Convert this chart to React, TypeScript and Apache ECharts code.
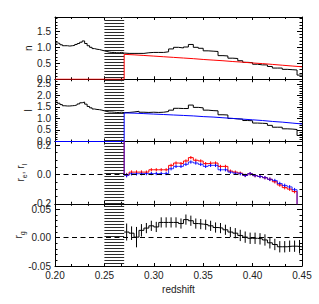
import React, { useEffect, useRef } from "react";
import * as echarts from "echarts";

// ---------- data ----------
const Z_RANGE = [0.2, 0.45];
const HATCH_Z = [0.25, 0.27];

// fine-resolution bins (0.2000 .. 0.2700, width 0.0025)
const FINE_START = 0.2;
const FINE_WIDTH = 0.0025;
const nFine = [1.14, 1.12, 1.08, 1.05, 1.05, 1.04, 1.05, 1.06, 1.09, 1.12, 1.16, 1.2, 1.12, 1.05, 1.0, 0.96, 0.94, 0.93, 0.91, 0.89, 0.87, 0.85, 0.84, 0.84, 0.83, 0.83, 0.84, 0.82];
const lFine = [1.71, 1.66, 1.6, 1.55, 1.54, 1.54, 1.55, 1.56, 1.59, 1.63, 1.68, 1.71, 1.62, 1.52, 1.46, 1.41, 1.39, 1.38, 1.36, 1.33, 1.3, 1.28, 1.28, 1.27, 1.26, 1.26, 1.27, 1.25];

// coarse bins (0.27 .. 0.45, width 0.005)
const BIN_START = 0.27;
const BIN_WIDTH = 0.005;
const nBins = [0.81, 0.81, 0.81, 0.81, 0.83, 0.84, 0.84, 0.84, 0.86, 0.95, 1.0, 0.98, 1.01, 1.09, 1.0, 0.97, 0.89, 0.88, 0.87, 0.74, 0.73, 0.66, 0.65, 0.58, 0.53, 0.52, 0.47, 0.45, 0.45, 0.4, 0.35, 0.35, 0.31, 0.3, 0.29, 0.13];
const lBins = [1.26, 1.28, 1.31, 1.27, 1.26, 1.27, 1.26, 1.27, 1.3, 1.36, 1.44, 1.43, 1.43, 1.58, 1.48, 1.46, 1.36, 1.34, 1.33, 1.16, 1.15, 1.0, 0.98, 0.97, 0.91, 0.9, 0.8, 0.79, 0.78, 0.7, 0.62, 0.62, 0.55, 0.54, 0.52, 0.26];

// model curves (points every 0.01 from 0.27 to 0.45)
const MODEL_START = 0.27;
const MODEL_STEP = 0.01;
const nModel = [0.78, 0.765, 0.745, 0.725, 0.705, 0.685, 0.665, 0.645, 0.62, 0.6, 0.58, 0.555, 0.535, 0.51, 0.49, 0.465, 0.44, 0.415, 0.39];
const lModel = [1.24, 1.23, 1.21, 1.19, 1.17, 1.15, 1.13, 1.11, 1.08, 1.06, 1.03, 1.0, 0.97, 0.94, 0.91, 0.87, 0.84, 0.8, 0.76];

// residuals
const R_EDGE_VALUE = 0.4; // undefined ratio left of 0.27 (off the top)
const rE = [-0.003, 0.016, 0.016, 0.016, 0.016, 0.032, 0.032, 0.032, 0.032, 0.062, 0.078, 0.074, 0.092, 0.115, 0.097, 0.092, 0.074, 0.078, 0.078, 0.055, 0.055, 0.023, 0.016, 0.009, -0.007, 0.005, -0.008, -0.014, -0.022, -0.033, -0.05, -0.072, -0.09, -0.1, -0.117, -0.35];
const rL = [-0.006, 0.005, 0.005, 0.006, 0.006, 0.006, 0.006, 0.006, 0.006, 0.039, 0.055, 0.055, 0.069, 0.085, 0.078, 0.069, 0.055, 0.062, 0.062, 0.032, 0.032, 0.016, 0.009, 0.005, -0.007, 0.005, -0.008, -0.014, -0.022, -0.033, -0.042, -0.062, -0.075, -0.085, -0.104, -0.35];
const rErr = [0.014, 0.012, 0.012, 0.012, 0.011, 0.011, 0.011, 0.011, 0.011, 0.011, 0.011, 0.011, 0.011, 0.011, 0.011, 0.011, 0.011, 0.011, 0.011, 0.011, 0.011, 0.011, 0.011, 0.011, 0.011, 0.011, 0.011, 0.011, 0.011, 0.012, 0.012, 0.012, 0.012, 0.012, 0.012, 0];

const rG = [0.01, 0.008, 0.001, 0.013, 0.017, 0.021, 0.019, 0.027, 0.027, 0.027, 0.027, 0.025, 0.032, 0.03, 0.025, 0.024, 0.023, 0.021, 0.018, 0.017, 0.014, 0.01, 0.008, 0.004, 0.001, -0.001, -0.001, -0.002, -0.004, -0.009, -0.012, -0.016, -0.016, -0.015, -0.015, -0.016];
const rGErr = [0.015, 0.012, 0.018, 0.011, 0.009, 0.009, 0.009, 0.009, 0.009, 0.009, 0.009, 0.009, 0.009, 0.009, 0.009, 0.009, 0.009, 0.009, 0.009, 0.009, 0.009, 0.009, 0.009, 0.01, 0.01, 0.01, 0.01, 0.01, 0.01, 0.01, 0.01, 0.01, 0.01, 0.01, 0.01, 0.012];

// axis settings per panel
const yRanges = [
  [0, 1.95],
  [0, 2.7],
  [-0.2, 0.225],
  [-0.05, 0.06],
];
const yIntervals = [0.5, 0.5, 0.2, 0.05];
const yMinorSplits = [5, 5, 4, 5];
const yDecimals = [1, 1, 1, 2];
const yNames = ["n", "l", "{r|r}{s|e}{r|, r}{s|l}", "{r|r}{s|g}"];
const yNameGaps = [22, 22, 27, 29];

// ---------- layout / style ----------
const GRID_LEFT = 55;
const GRID_WIDTH = 247;
const GRID_TOP = 17;
const GRID_H = 62.25;
const HATCH_ORIGIN = 17.5;
const HATCH_GAP = 3;
const FONT = "Liberation Sans";
const TXT = "#222";

function stepData(start: number, width: number, vals: number[], close = true) {
  const out: number[][] = vals.map((v, k) => [start + k * width, v]);
  if (close) out.push([start + vals.length * width, vals[vals.length - 1]]);
  return out;
}
function centers(n: number) {
  const c: number[] = [];
  for (let k = 0; k < n; k++) c.push(BIN_START + (k + 0.5) * BIN_WIDTH);
  return c;
}
function modelData(vals: number[]) {
  const out: number[][] = [[Z_RANGE[0], 0], [MODEL_START, 0]];
  vals.forEach((v, j) => out.push([MODEL_START + j * MODEL_STEP, v]));
  return out;
}

function lineSeries(gi: number, data: number[][], color: string, step: any, opacity = 1) {
  return {
    type: "line",
    xAxisIndex: 2 * gi,
    yAxisIndex: 2 * gi,
    data,
    step,
    symbol: "none",
    clip: true,
    silent: true,
    lineStyle: { color, width: 1, opacity },
    z: 3,
  };
}

function errSeries(gi: number, vals: number[], errs: number[], color: string) {
  const c = centers(vals.length);
  return {
    type: "custom",
    xAxisIndex: 2 * gi,
    yAxisIndex: 2 * gi,
    clip: true,
    silent: true,
    z: 3,
    data: vals.map((v, k) => [c[k], v, errs[k]]),
    encode: { x: 0, y: 1 },
    renderItem: (_p: any, api: any) => {
      const x = api.value(0), y = api.value(1), e = api.value(2);
      const a = api.coord([x, y - e]);
      const b = api.coord([x, y + e]);
      return {
        type: "line",
        shape: { x1: a[0], y1: a[1], x2: b[0], y2: b[1] },
        style: { stroke: color, lineWidth: 1 },
      };
    },
  };
}

function hatchSeries(gi: number) {
  return {
    type: "custom",
    xAxisIndex: 2 * gi,
    yAxisIndex: 2 * gi,
    silent: true,
    z: 1,
    data: [[HATCH_Z[0], HATCH_Z[1], yRanges[gi][0]]],
    encode: { x: [0, 1], y: 2 },
    renderItem: (params: any, api: any) => {
      const cs = params.coordSys;
      const y0 = api.value(2);
      const x1 = api.coord([api.value(0), y0])[0];
      const x2 = api.coord([api.value(1), y0])[0];
      const top = cs.y;
      const bot = cs.y + cs.height;
      const children: any[] = [];
      const k = Math.ceil((top - HATCH_ORIGIN) / HATCH_GAP);
      for (let y = HATCH_ORIGIN + k * HATCH_GAP; y <= bot + 0.01; y += HATCH_GAP) {
        children.push({
          type: "line",
          shape: { x1, y1: y, x2, y2: y },
          style: { stroke: "#2a2a2a", lineWidth: 1 },
        });
      }
      return { type: "group", children };
    },
  };
}

function zeroLine() {
  return {
    silent: true,
    symbol: ["none", "none"],
    label: { show: false },
    lineStyle: { color: "#000", width: 1, type: [5, 3.5] },
    data: [{ yAxis: 0 }],
  };
}

function buildOption() {
  const grid: any[] = [];
  const xAxis: any[] = [];
  const yAxis: any[] = [];
  const axLine = { show: true, onZero: false, lineStyle: { color: "#000", width: 1 } };
  for (let i = 0; i < 4; i++) {
    grid.push({ left: GRID_LEFT, width: GRID_WIDTH, top: GRID_TOP + i * GRID_H, height: GRID_H, show: false });
    for (const pos of ["bottom", "top"]) {
      const showLab = pos === "bottom" && i === 3;
      xAxis.push({
        type: "value",
        gridIndex: i,
        position: pos,
        min: Z_RANGE[0],
        max: Z_RANGE[1],
        interval: 0.05,
        axisLine: axLine,
        axisTick: { show: true, inside: true, length: 3, lineStyle: { color: "#000", width: 1 } },
        minorTick: { show: true, splitNumber: 3, length: 2, lineStyle: { color: "#000", width: 1 } },
        splitLine: { show: false },
        minorSplitLine: { show: false },
        axisLabel: {
          show: showLab,
          margin: 4,
          fontFamily: FONT,
          fontSize: 10,
          color: TXT,
          formatter: (v: number) => v.toFixed(2),
        },
        name: showLab ? "redshift" : "",
        nameLocation: "middle",
        nameGap: 18,
        nameMoveOverlap: false,
        nameTextStyle: { fontFamily: FONT, fontSize: 10, color: TXT },
      });
    }
    for (const pos of ["left", "right"]) {
      const showLab = pos === "left";
      yAxis.push({
        type: "value",
        gridIndex: i,
        position: pos,
        min: yRanges[i][0],
        max: yRanges[i][1],
        interval: yIntervals[i],
        axisLine: axLine,
        axisTick: { show: true, inside: true, length: 5, lineStyle: { color: "#000", width: 1 } },
        minorTick: { show: true, splitNumber: yMinorSplits[i], length: 2.5, lineStyle: { color: "#000", width: 1 } },
        splitLine: { show: false },
        minorSplitLine: { show: false },
        axisLabel: {
          show: showLab,
          showMaxLabel: false,
          margin: 4,
          padding: [0, 0, 4, 0],
          fontFamily: FONT,
          fontSize: 10,
          color: TXT,
          formatter: (v: number) => v.toFixed(yDecimals[i]),
        },
        name: showLab ? yNames[i] : "",
        nameLocation: "middle",
        nameRotate: 90,
        nameGap: yNameGaps[i],
        nameMoveOverlap: false,
        nameTextStyle: {
          fontFamily: FONT,
          fontSize: 10,
          color: TXT,
          rich: {
            r: { fontFamily: FONT, fontSize: 10, color: TXT, lineHeight: 16 },
            s: { fontFamily: FONT, fontSize: 7, color: TXT, lineHeight: 7, verticalAlign: "bottom" },
          },
        },
      });
    }
  }

  const nData = stepData(FINE_START, FINE_WIDTH, nFine, false).concat(stepData(BIN_START, BIN_WIDTH, nBins));
  const lData = stepData(FINE_START, FINE_WIDTH, lFine, false).concat(stepData(BIN_START, BIN_WIDTH, lBins));
  const rEData = [[BIN_START, R_EDGE_VALUE]].concat(stepData(BIN_START, BIN_WIDTH, rE));
  const rLData = [[BIN_START, R_EDGE_VALUE]].concat(stepData(BIN_START, BIN_WIDTH, rL));
  const rGData = stepData(BIN_START, BIN_WIDTH, rG);

  const r3red: any = lineSeries(2, rEData, "#ff0000", "end");
  r3red.markLine = zeroLine();
  const r4: any = lineSeries(3, rGData, "#000000", "end");
  r4.markLine = zeroLine();

  const series: any[] = [
    hatchSeries(0),
    hatchSeries(1),
    hatchSeries(2),
    hatchSeries(3),
    lineSeries(0, nData, "#000000", "end"),
    lineSeries(0, modelData(nModel), "#ff0000", false),
    lineSeries(1, lData, "#000000", "end"),
    lineSeries(1, modelData(lModel), "#0000ff", false),
    r3red,
    errSeries(2, rE, rErr, "#ff0000"),
    lineSeries(2, rLData, "#0000ff", "end", 0.8),
    errSeries(2, rL, rErr, "#0000ff"),
    r4,
    errSeries(3, rG, rGErr, "#000000"),
  ];

  return {
    animation: false,
    backgroundColor: "#ffffff",
    grid,
    xAxis,
    yAxis,
    series,
  };
}

export default function App() {
  const ref = useRef<HTMLDivElement>(null);
  useEffect(() => {
    if (!ref.current) return;
    const chart = echarts.init(ref.current, undefined, { renderer: "svg" });
    chart.setOption(buildOption() as any);
    return () => chart.dispose();
  }, []);
  return (
    <div
      ref={ref}
      style={{ position: "absolute", left: 0, top: 0, width: 319, height: 304, background: "#fff" }}
    />
  );
}
